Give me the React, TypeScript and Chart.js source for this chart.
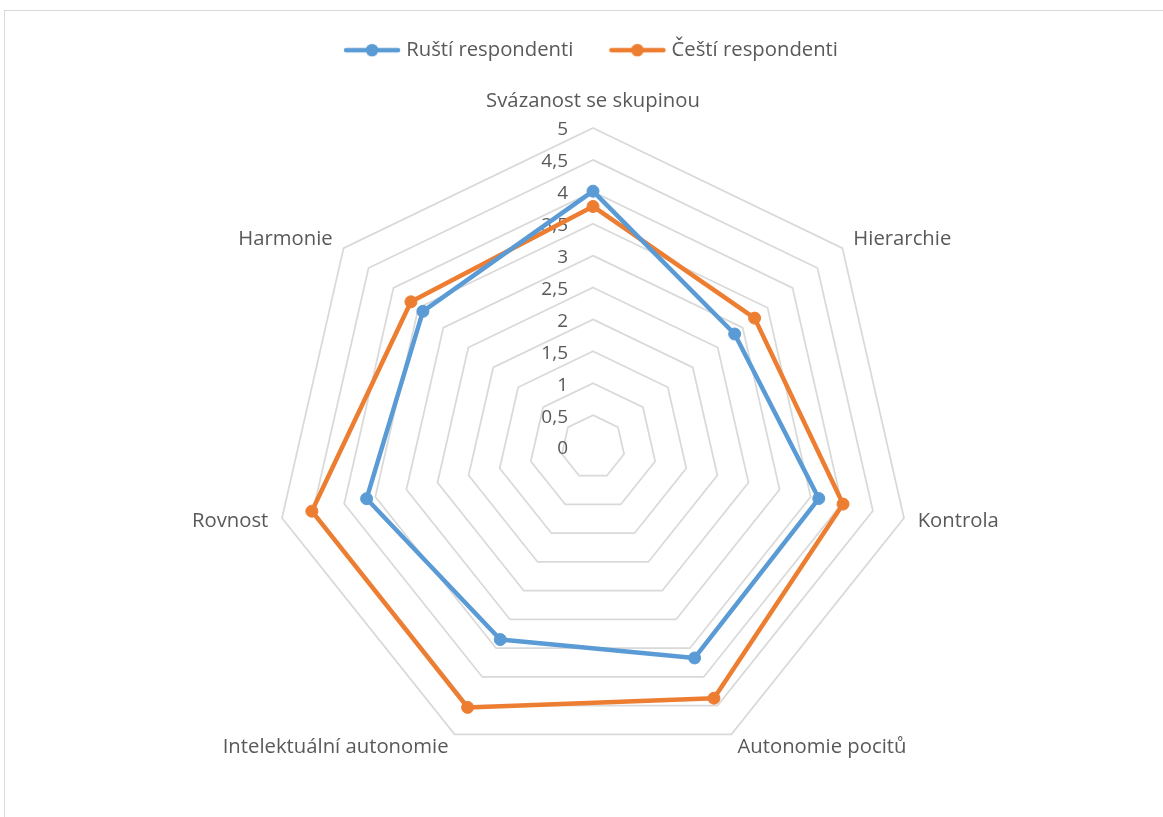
import React, { useEffect, useRef } from "react";
import { Chart, registerables } from "chart.js";

Chart.register(...registerables);

const categories = [
  "Svázanost se skupinou",
  "Hierarchie",
  "Kontrola",
  "Autonomie pocitů",
  "Intelektuální autonomie",
  "Rovnost",
  "Harmonie",
];

const russianValues = [4.01, 2.84, 3.63, 3.67, 3.35, 3.64, 3.41];
const czechValues = [3.77, 3.24, 4.02, 4.37, 4.53, 4.52, 3.65];

const seriesNames = ["Ruští respondenti", "Čeští respondenti"];

const tickLabels = ["0", "0,5", "1", "1,5", "2", "2,5", "3", "3,5", "4", "4,5", "5"];

const BLUE = "#5B9BD5";
const ORANGE = "#ED7D31";
const TEXT = "#595959";
const GRID = "#d9d9d9";
const FONT_FAMILY = '"Open Sans", "Noto Sans", sans-serif';
const FONT_SIZE = 20.3;
const TICK_FONT_SIZE = 19;

function makeLegendSymbol(color: string): HTMLCanvasElement {
  const c = document.createElement("canvas");
  c.width = 58;
  c.height = 14;
  const ctx = c.getContext("2d")!;
  ctx.strokeStyle = color;
  ctx.lineWidth = 4.5;
  ctx.lineCap = "round";
  ctx.beginPath();
  ctx.moveTo(3, 7);
  ctx.lineTo(55, 7);
  ctx.stroke();
  ctx.fillStyle = color;
  ctx.beginPath();
  ctx.arc(29, 7, 6.3, 0, Math.PI * 2);
  ctx.fill();
  return c;
}

const excelLabels = {
  id: "excelLabels",
  beforeDatasetsDraw(chart: any) {
    const scale = chart.scales.r;
    const ctx = chart.ctx;
    ctx.save();
    ctx.fillStyle = TEXT;
    ctx.font = `${TICK_FONT_SIZE}px ${FONT_FAMILY}`;
    ctx.textAlign = "right";
    ctx.textBaseline = "middle";
    scale.ticks.forEach((t: any, i: number) => {
      const y = scale.yCenter - scale.getDistanceFromCenterForValue(t.value);
      ctx.fillText(tickLabels[i] ?? String(t.value), scale.xCenter - 25, y + 2);
    });
    ctx.font = `${FONT_SIZE}px ${FONT_FAMILY}`;
    (chart.data.labels as string[]).forEach((lab, i) => {
      const p = scale.getPointPosition(i, scale.drawingArea + 14);
      const a = scale.getIndexAngle(i);
      const s = Math.sin(a);
      if (Math.abs(s) < 0.01) {
        ctx.textAlign = "center";
        ctx.textBaseline = "alphabetic";
        ctx.fillText(lab, p.x, p.y - 7);
      } else {
        ctx.textAlign = s > 0 ? "left" : "right";
        ctx.textBaseline = "middle";
        ctx.fillText(lab, p.x, p.y);
      }
    });
    ctx.restore();
  },
};

export default function App() {
  const ref = useRef<HTMLCanvasElement>(null);

  useEffect(() => {
    if (!ref.current) return;
    const symbols = [makeLegendSymbol(BLUE), makeLegendSymbol(ORANGE)];
    const chart = new Chart(ref.current, {
      type: "radar",
      data: {
        labels: categories,
        datasets: [
          {
            label: seriesNames[0],
            data: russianValues,
            borderColor: BLUE,
            backgroundColor: BLUE,
            pointBackgroundColor: BLUE,
            pointBorderColor: BLUE,
            borderWidth: 4.5,
            pointRadius: 6,
            pointBorderWidth: 1,
            borderJoinStyle: "round",
            fill: false,
            tension: 0,
          },
          {
            label: seriesNames[1],
            data: czechValues,
            borderColor: ORANGE,
            backgroundColor: ORANGE,
            pointBackgroundColor: ORANGE,
            pointBorderColor: ORANGE,
            borderWidth: 4.5,
            pointRadius: 6,
            pointBorderWidth: 1,
            borderJoinStyle: "round",
            fill: false,
            tension: 0,
          },
        ],
      },
      options: {
        responsive: false,
        animation: false,
        layout: { padding: { left: 274, right: 251, top: 0, bottom: 75 } },
        plugins: {
          legend: {
            position: "top",
            labels: {
              usePointStyle: true,
              pointStyleWidth: 48,
              padding: 40,
              color: TEXT,
              font: { size: FONT_SIZE, family: FONT_FAMILY },
              generateLabels: (c: any) =>
                Chart.defaults.plugins.legend.labels
                  .generateLabels(c)
                  .map((item: any, i: number) => ({ ...item, pointStyle: symbols[i] })),
            },
          },
          tooltip: { enabled: false },
        },
        scales: {
          r: {
            min: 0,
            max: 5,
            ticks: { stepSize: 0.5, display: false, showLabelBackdrop: false },
            grid: { color: GRID, lineWidth: 1.75 },
            angleLines: { display: false },
            pointLabels: { display: false },
          },
        },
      },
      plugins: [excelLabels],
    });
    return () => chart.destroy();
  }, []);

  return (
    <div style={{ position: "fixed", left: 0, top: 0, width: 1163, height: 817, overflow: "hidden", background: "#fff" }}>
      <div
        style={{
          position: "absolute",
          left: 4,
          top: 10,
          width: 1400,
          height: 1200,
          borderLeft: "1.5px solid #d9d9d9",
          borderTop: "1.5px solid #d9d9d9",
        }}
      />
      <canvas ref={ref} width={1163} height={900} style={{ position: "absolute", left: 0, top: 0 }} />
    </div>
  );
}
